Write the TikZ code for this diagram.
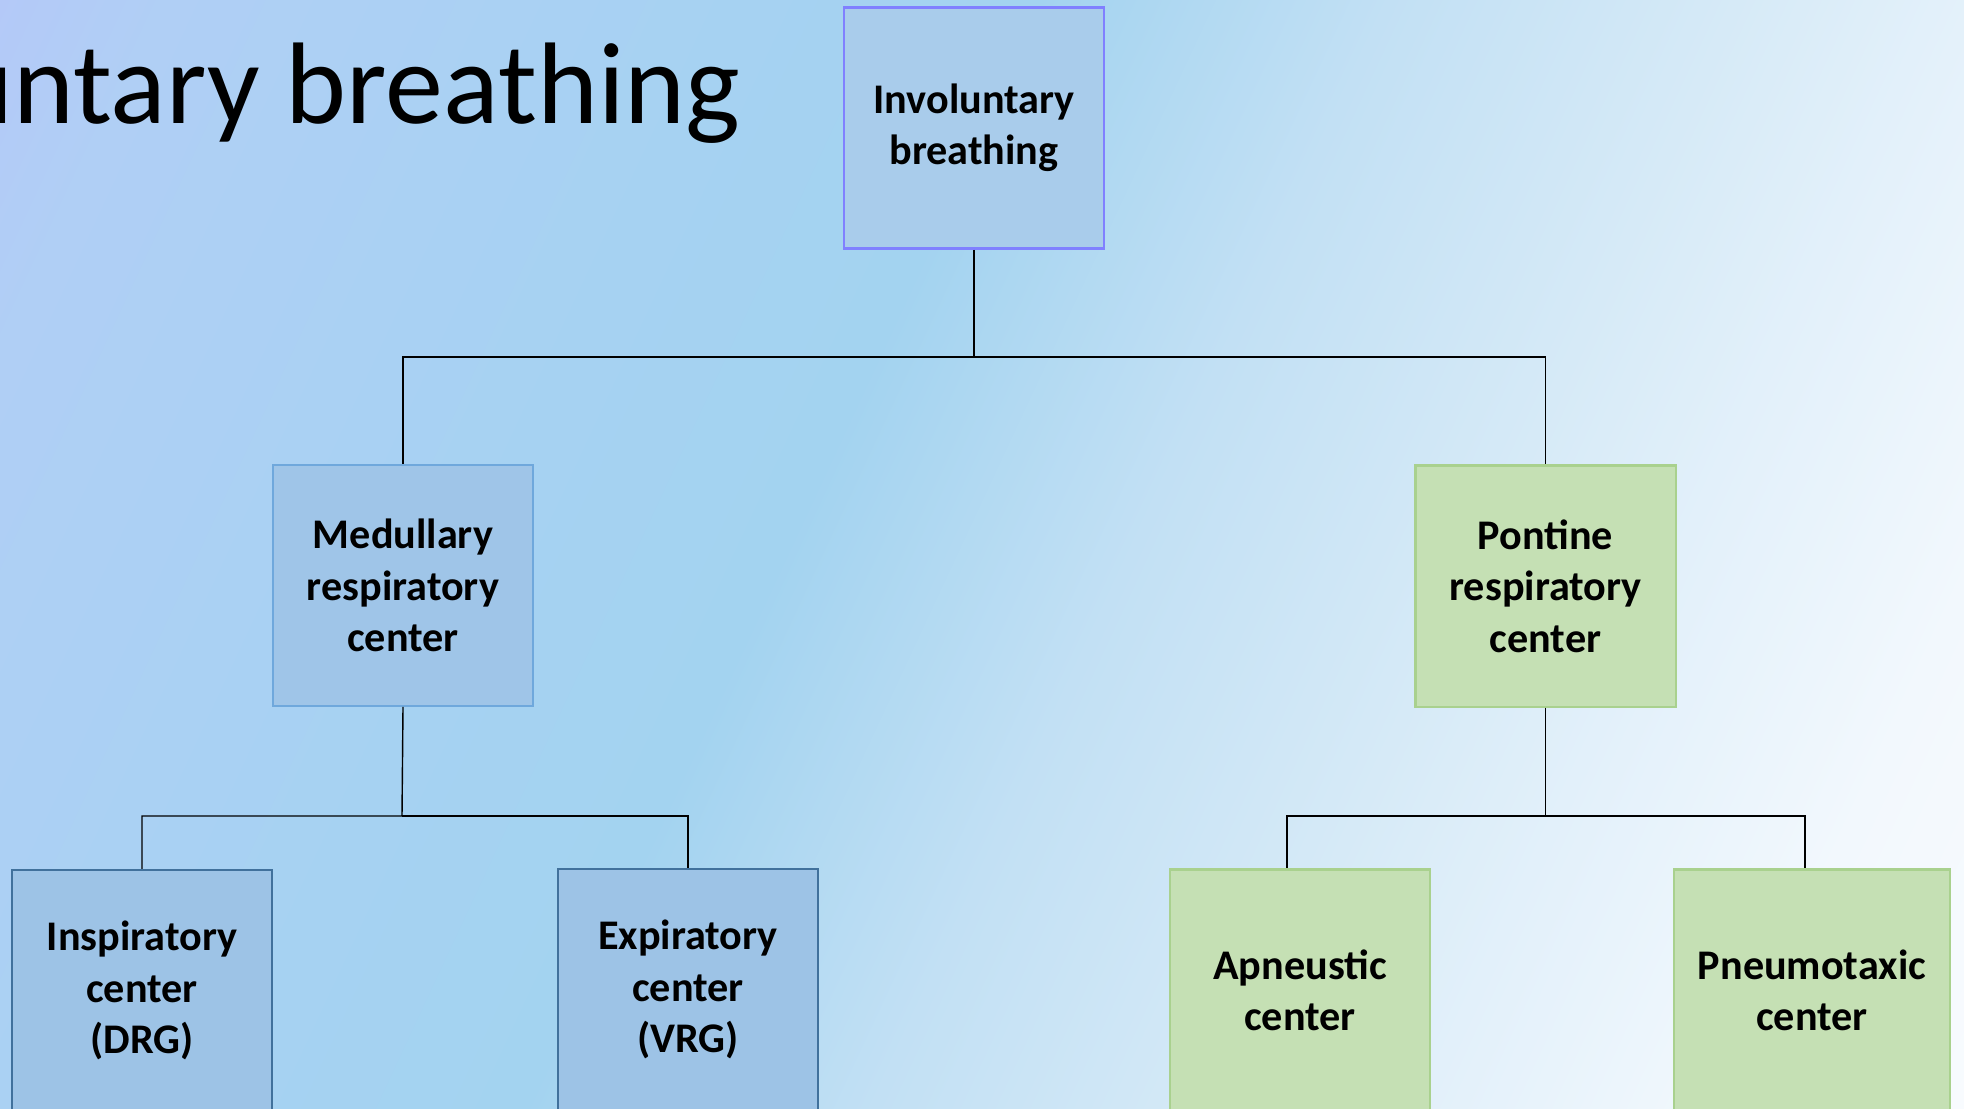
\documentclass[tikz,border=0pt]{standalone}
\usepackage{fontspec}
\setmainfont{Carlito}

% background colours along the diagonal gradient
\definecolor{bg0}{HTML}{B4C9F8}
\definecolor{bg1}{HTML}{B0CFF5}
\definecolor{bg2}{HTML}{A6D2F2}
\definecolor{bg3}{HTML}{A3D3F0}
\definecolor{bg4}{HTML}{C2E0F4}
\definecolor{bg5}{HTML}{D6EAF7}
\definecolor{bg6}{HTML}{E2F0FA}
\definecolor{bg7}{HTML}{F2F8FD}
\definecolor{bg8}{HTML}{F8FBFE}

% box colours
\definecolor{rootfill}{HTML}{A9CCEB}
\definecolor{rootline}{HTML}{8080FF}
\definecolor{medfill}{HTML}{9FC5E8}
\definecolor{medline}{HTML}{6FA8DC}
\definecolor{leaffill}{HTML}{9DC3E6}
\definecolor{leafline}{HTML}{41719C}
\definecolor{greenfill}{HTML}{C5E0B4}
\definecolor{greenline}{HTML}{A9D18E}

\pgfdeclarehorizontalshading{bgshade}{100bp}{%
  color(0bp)=(bg0); color(25bp)=(bg0); color(28.5bp)=(bg1);
  color(40bp)=(bg2); color(46bp)=(bg3); color(53bp)=(bg4);
  color(60bp)=(bg5); color(64bp)=(bg6); color(70bp)=(bg7);
  color(75bp)=(bg8); color(100bp)=(bg8)}

\begin{document}
\begin{tikzpicture}[x=0.01cm, y=-0.01cm,
  box/.style={rectangle, minimum width=2.6cm, minimum height=2.41cm,
    inner sep=2pt, align=center, text=black,
    font=\fontsize{12}{14.6}\selectfont\bfseries},
  rootbox/.style={box, fill=rootfill, draw=rootline, line width=0.75pt},
  midblue/.style={box, fill=medfill, draw=medline, line width=0.5pt},
  leafblue/.style={box, fill=leaffill, draw=leafline, line width=0.6pt},
  greenbox/.style={box, fill=greenfill, draw=greenline, line width=0.6pt},
  link/.style={draw=black, line width=0.4pt},
  title/.style={anchor=base east, inner sep=0pt, text=black,
    font=\fontsize{33}{40}\selectfont}
]
% canvas
\clip (0,0) rectangle (1964,1108);
\shade[shading=bgshade, shading angle=-25] (-146,-574) rectangle (2110,1682);

% heading, running off the left edge
\node[title] (heading) at (741,123) {Involuntary breathing};

% boxes
\node[rootbox] (top) at (974,128) {Involuntary\\breathing};
\node[midblue] (med) at (403,585.5) {Medullary\\respiratory\\center};
\node[greenbox] (pon) at (1545.5,586) {Pontine\\respiratory\\center};
\node[leafblue] (ins) at (142,990.5) {Inspiratory\\center\\(DRG)};
\node[leafblue] (exp) at (688,989.5) {Expiratory\\center\\(VRG)};
\node[greenbox] (apn) at (1300,990) {Apneustic\\center};
\node[greenbox, minimum width=2.76cm] (pne) at (1812,990) {Pneumotaxic\\center};

% junction points of the tree
\coordinate (j1) at (974,357);
\coordinate (j2) at (402,816);
\coordinate (j3) at (1544,816);

% connectors
\draw[link] (top.south) -- (j1) -| (med.north);
\draw[link] (j1) -| (pon.north);
\draw[link] (med.south) -- (j2) -| (ins.north);
\draw[link] (j2) -| (exp.north);
\draw[link] (pon.south) -- (pon.south |- j3) -| ([xshift=-0.13cm]apn.north);
\draw[link] (pon.south |- j3) -| ([xshift=-0.07cm]pne.north);
\end{tikzpicture}
\end{document}
